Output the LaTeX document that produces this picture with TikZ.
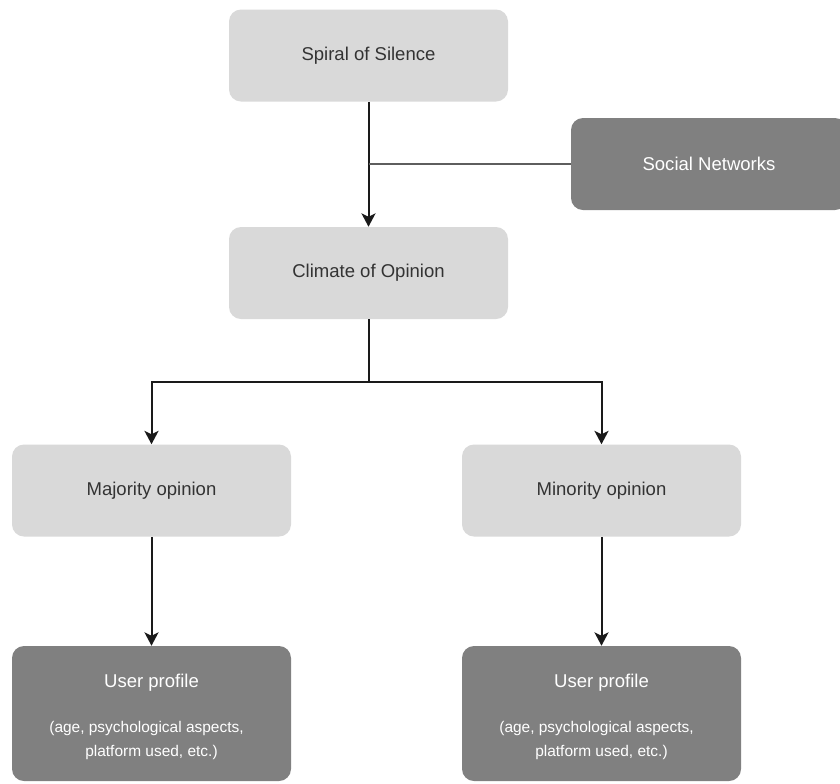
\documentclass[tikz,border=0pt]{standalone}
\usepackage{fontspec}
\setmainfont{Liberation Sans}
\usetikzlibrary{arrows.meta,calc}
\definecolor{lightbox}{HTML}{D9D9D9}
\definecolor{darkbox}{HTML}{808080}
\definecolor{txtdark}{HTML}{333333}
\definecolor{linecol}{HTML}{1A1A1A}
\definecolor{sideline}{HTML}{5E5E5E}
\tikzset{
  lbox/.style={rectangle, rounded corners=9pt, fill=lightbox, draw=none,
    minimum width=209.25pt, minimum height=69pt, inner sep=0pt,
    text=txtdark, font=\fontsize{13.9pt}{16pt}\selectfont},
  dbox/.style={rectangle, rounded corners=9pt, fill=darkbox, draw=none,
    minimum width=209.25pt, inner sep=0pt,
    text=white, font=\fontsize{13.9pt}{16pt}\selectfont},
  smalltxt/.style={text=white, font=\fontsize{11.6pt}{14pt}\selectfont, inner sep=0pt, anchor=base},
  bigtxt/.style={text=white, font=\fontsize{13.9pt}{16pt}\selectfont, inner sep=0pt, anchor=base},
  conn/.style={draw=linecol, line width=1.5pt,
    -{Stealth[length=10pt,width=10.5pt,inset=2.5pt]}},
  plainconn/.style={draw=linecol, line width=1.5pt},
  sideconn/.style={draw=sideline, line width=1.4pt}
}
\begin{document}
\begin{tikzpicture}[x=0.75pt,y=-0.75pt]
\clip (0,0) rectangle (840,783);
\fill[white] (0,0) rectangle (840,783);

\node[lbox] (spiral) at (368.5,55.5) {Spiral of Silence};
\node[dbox, minimum width=207pt, minimum height=69pt] (social) at (709,164) {Social Networks};
\node[lbox] (climate) at (368.5,273) {Climate of Opinion};
\node[lbox] (major) at (151.5,490.5) {Majority opinion};
\node[lbox] (minor) at (601.5,490.5) {Minority opinion};
\node[dbox, minimum height=101.25pt] (userL) at (151.5,713.5) {};
\node[dbox, minimum height=101.25pt] (userR) at (601.5,713.5) {};

\node[bigtxt] (userLt) at ($(userL.center)+(0,-26.5)$) {User profile};
\node[smalltxt] (userLa) at ($(userL.center)+(-5,18.5)$) {(age, psychological aspects,};
\node[smalltxt] (userLb) at ($(userL.center)+(0,42.5)$) {platform used, etc.)};
\node[bigtxt] (userRt) at ($(userR.center)+(0,-26.5)$) {User profile};
\node[smalltxt] (userRa) at ($(userR.center)+(-5,18.5)$) {(age, psychological aspects,};
\node[smalltxt] (userRb) at ($(userR.center)+(0,42.5)$) {platform used, etc.)};

\coordinate (fork) at (368.5,381.5);

\draw[conn] (spiral.south) -- (climate.north);
\draw[sideconn] (social.west) -- (social.west -| spiral.south);
\draw[plainconn] (climate.south) -- (fork);
\draw[conn] (fork) -| (major.north);
\draw[conn] (fork) -| (minor.north);
\draw[conn] (major.south) -- (userL.north);
\draw[conn] (minor.south) -- (userR.north);
\end{tikzpicture}
\end{document}
